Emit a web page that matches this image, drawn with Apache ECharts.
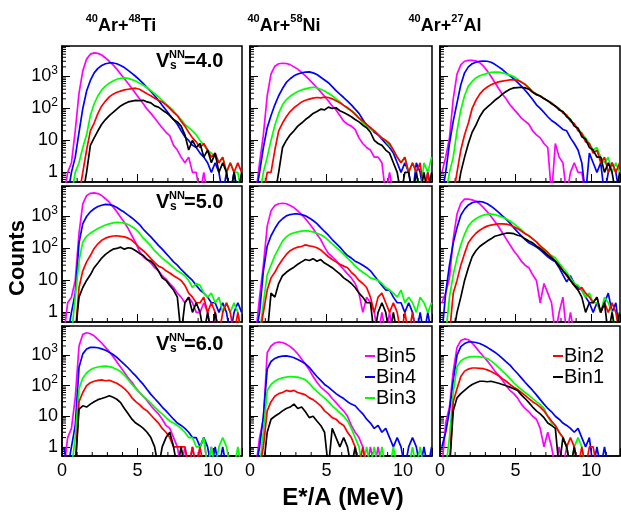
<!DOCTYPE html>
<html><head><meta charset="utf-8">
<script src="https://cdn.jsdelivr.net/npm/echarts@6/dist/echarts.min.js"></script>
<style>html,body{margin:0;padding:0;background:#fff}#c{width:621px;height:513px}</style>
</head><body><div id="c"></div>
<script>
// ---------- data ----------
const binCenters = [0.125,0.375,0.625,0.875,1.125,1.375,1.625,1.875,2.125,2.375,2.625,2.875,3.125,3.375,3.625,3.875,4.125,4.375,4.625,4.875,5.125,5.375,5.625,5.875,6.125,6.375,6.625,6.875,7.125,7.375,7.625,7.875,8.125,8.375,8.625,8.875,9.125,9.375,9.625,9.875,10.125,10.375,10.625,10.875,11.125,11.375,11.625,11.875];
const binNames = ['Bin5','Bin4','Bin3','Bin2','Bin1'];
const binColors = ['#ff00ff','#0000ff','#00ff00','#ff0000','#000000'];
const vsValues = ['4.0','5.0','6.0'];
const xTickLabels = [0,5,10];
const xMinorTicks = [1,2,3,4,6,7,8,9,11];
const yMinorTicks = [0.6,0.7,0.8,0.9,2,3,4,5,6,7,8,9,20,30,40,50,60,70,80,90,200,300,400,500,600,700,800,900,2000,3000,4000,5000,6000,7000,8000];

// 40Ar+48Ti, Vs=4.0
const tiV4Bin5 = [0,1,2,20,300,1500,3500,5000,5500,5300,4700,3800,3000,2300,1700,1200,850,600,420,290,200,140,95,70,50,35,25,18,14,7,5,3,2,3,1,1,0,1,0,0,0,0,0,0,0,0,0,0];
const tiV4Bin4 = [0,0,1,3,18,100,350,750,1300,1800,2200,2500,2650,2650,2500,2200,1900,1550,1250,1000,780,600,450,340,250,180,125,90,62,45,32,20,13,10,7,6,4,3,2,1,2,1,0,1,0,1,0,0];
const tiV4Bin3 = [0,0,0,1,2,6,15,60,140,250,380,500,620,720,820,880,900,880,800,720,620,530,450,360,290,230,180,140,110,85,60,45,32,25,20,15,10,7,5,4,3,2,3,1,2,1,1,0];
const tiV4Bin2 = [0,0,0,0,0,1,5,20,35,70,120,170,230,280,320,350,380,400,420,430,400,340,290,250,210,180,160,130,100,75,60,40,28,18,12,9,6,8,5,3,4,2,3,1,2,1,2,1];
const tiV4Bin1 = [0,0,0,0,0,0,1,7,12,20,32,45,60,75,95,120,140,160,170,180,175,180,160,150,120,110,90,75,60,45,38,28,15,5,10,6,8,3,5,2,4,1,2,1,0,1,0,1];
// 40Ar+58Ni, Vs=4.0
const niV4Bin5 = [0,0,2,15,250,1200,2100,2500,2600,2550,2350,2000,1700,1350,1050,800,600,450,330,240,170,120,90,60,40,32,28,22,12,8,6,5,3,3,2,0,1,0,0,0,0,0,0,0,0,0,0,0];
const niV4Bin4 = [0,0,1,6,25,60,130,250,420,650,850,1050,1200,1300,1380,1400,1300,1150,950,780,640,480,360,280,220,170,130,95,70,45,30,25,18,15,11,8,6,4,2,1,2,1,0,2,1,0,1,0];
const niV4Bin3 = [0,0,0,1,3,10,30,70,130,190,240,290,340,380,410,440,460,440,400,350,300,250,200,160,125,100,85,70,50,35,28,22,20,16,12,10,7,5,3,2,3,1,2,1,0,2,1,3];
const niV4Bin2 = [0,0,0,0,1,1,5,20,35,55,80,105,130,160,180,195,210,220,215,225,220,200,175,150,125,105,85,65,50,40,32,25,20,15,12,10,8,5,3,2,3,1,2,1,2,0,1,0];
const niV4Bin1 = [0,0,0,0,0,0,0,1,6,10,15,20,28,35,45,55,70,80,95,90,110,100,105,85,75,65,55,45,38,30,25,18,10,8,7,5,4,2,1,0,1,1,0,1,0,1,0,1];
// 40Ar+27Al, Vs=4.0
const alV4Bin5 = [1,3,12,200,1200,2300,3000,3200,3200,3100,2700,2100,1500,1000,650,420,280,200,130,95,70,50,40,32,20,15,12,8,6,0,8,3,2,0,1,2,1,1,0,0,0,0,0,0,0,0,0,0];
const alV4Bin4 = [0,1,8,40,150,550,1300,2000,2500,2800,3000,3050,3000,2800,2400,2000,1650,1300,1050,850,650,500,370,270,190,130,100,75,55,42,35,28,22,20,12,8,5,2,0,4,2,1,2,0,1,2,1,0];
const alV4Bin3 = [0,0,1,3,20,90,250,500,700,900,1050,1150,1250,1350,1380,1380,1300,1200,1100,1000,820,650,580,450,340,290,245,205,175,145,120,95,78,60,44,32,24,16,12,8,5,6,3,2,3,1,2,1];
const alV4Bin2 = [0,0,0,0,1,5,15,35,100,180,280,380,470,550,620,680,720,750,780,790,760,680,560,440,330,280,240,210,170,150,115,100,72,62,40,34,20,17,9,8,4,5,2,3,1,2,1,2];
const alV4Bin1 = [0,0,0,0,0,1,3,8,18,30,55,85,110,140,180,220,280,340,400,440,450,460,440,400,320,270,245,200,175,140,120,90,80,55,45,28,24,13,11,6,5,3,3,1,2,1,0,1];
// Vs=5.0
const tiV5Bin5 = [0,2,3,10,300,2500,4500,5300,5500,5200,4500,3600,2800,2000,1400,950,650,420,250,150,80,55,45,35,25,20,14,11,8,6,4,3,2,3,2,1,1,2,1,0,1,0,0,0,0,0,0,0];
const tiV5Bin4 = [0,0,1,4,150,600,1000,1400,1750,2050,2250,2400,2350,2200,1900,1600,1350,1100,900,720,560,400,300,230,170,125,95,70,52,38,30,22,17,13,10,7,5,4,3,2,2,1,2,1,0,1,2,1];
const tiV5Bin3 = [0,0,0,3,40,160,240,300,360,420,480,540,590,630,660,650,620,560,480,400,300,210,160,120,85,65,50,40,32,25,20,17,14,10,6,8,7,4,3,4,2,3,1,2,1,2,1,0];
const tiV5Bin2 = [0,0,0,0,6,20,38,60,100,140,180,210,230,245,250,240,230,210,180,140,105,85,65,48,36,28,25,20,17,14,12,10,7,4,3,2,2,3,1,2,1,0,1,2,1,0,1,0];
const tiV5Bin1 = [0,0,0,0,3,6,10,15,25,35,50,65,80,95,100,110,95,105,100,85,70,60,45,40,30,20,12,10,7,5,3,0,2,3,1,2,1,0,1,0,1,0,0,0,0,0,0,0];
const niV5Bin5 = [0,0,3,30,500,1500,2200,2500,2600,2500,2200,1900,1500,1150,850,600,420,280,190,110,70,55,42,30,22,16,12,8,4,1,3,2,1,0,1,0,1,0,0,0,0,0,0,0,0,0,0,0];
const niV5Bin4 = [0,0,1,20,120,250,420,650,850,1050,1150,1200,1200,1150,1050,900,750,600,450,340,260,190,145,110,80,60,50,40,35,30,25,20,14,10,7,5,5,3,2,2,1,2,1,0,1,0,1,0];
const niV5Bin3 = [0,0,0,2,15,30,60,100,170,230,280,310,330,350,360,350,330,300,270,230,180,140,110,85,65,50,38,28,22,18,15,12,11,10,8,6,5,4,3,5,2,3,2,1,3,2,1,2];
const niV5Bin2 = [0,0,0,1,5,12,18,30,45,65,85,100,110,115,130,120,115,105,90,70,55,45,38,32,28,25,18,14,10,8,6,3,1,3,4,2,1,2,1,0,1,0,1,0,0,0,0,0];
const niV5Bin1 = [0,0,0,0,0,4,3,8,14,18,22,26,32,38,45,42,48,40,45,35,30,25,20,16,12,10,8,6,4,3,2,2,0,1,2,1,0,1,0,0,0,0,0,0,0,0,0,0];
const alV5Bin5 = [2,4,12,200,1200,2600,3500,3500,3300,3000,2500,1900,1400,1000,700,480,310,200,130,85,60,40,30,25,15,10,2,8,4,2,0,1,3,0,1,0,0,0,0,0,0,0,0,0,0,0,0,0];
const alV5Bin4 = [0,4,30,150,450,1100,1700,2300,2700,2900,2950,2800,2500,2100,1700,1350,1050,820,620,450,330,250,190,150,130,110,90,70,55,45,38,25,15,9,14,8,6,5,3,2,1,2,1,2,4,1,2,0];
const alV5Bin3 = [0,0,3,15,50,130,280,500,700,850,1000,1100,1180,1200,1150,1050,950,850,720,600,480,380,300,250,200,160,120,95,75,60,50,35,25,18,12,8,7,5,3,4,2,2,1,3,2,1,0,1];
const alV5Bin2 = [0,0,0,4,10,30,70,150,220,300,370,440,500,540,570,590,590,580,540,480,420,350,290,250,200,160,120,95,75,55,40,30,20,14,10,7,5,6,4,3,2,3,1,2,1,2,1,0];
const alV5Bin1 = [0,0,0,0,1,3,10,25,55,85,115,140,170,200,240,260,280,300,300,290,260,240,200,170,150,120,100,80,62,50,40,28,20,15,10,7,5,3,1,2,2,3,1,2,0,1,0,1];
// Vs=6.0
const tiV6Bin5 = [0,2,4,40,2000,4800,5400,5000,4300,3300,2500,1800,1300,900,600,400,270,180,130,85,60,45,32,22,16,12,8,5,4,2,1,0,1,0,1,0,1,2,0,1,0,0,0,0,0,0,0,0];
const tiV6Bin4 = [1,0,1,5,400,1100,1600,1800,1800,1750,1600,1450,1250,1050,850,650,500,380,280,210,150,110,75,52,38,28,20,15,11,8,6,5,4,3,2,2,1,2,1,0,1,0,1,0,0,0,0,0];
const tiV6Bin3 = [0,0,0,2,80,180,260,330,380,410,430,440,420,390,340,290,220,160,110,80,60,45,35,27,20,15,12,9,7,6,5,4,3,2,2,1,1,2,0,1,0,1,2,1,0,0,1,0];
const tiV6Bin2 = [0,0,0,0,30,60,100,125,140,150,155,145,150,135,120,100,80,60,40,30,24,18,15,11,8,6,4,3,2,1,1,1,1,0,1,0,1,0,0,0,0,0,0,0,0,0,0,0];
const tiV6Bin1 = [0,0,0,0,17,22,20,25,30,35,38,42,47,42,36,28,18,12,8,6,5,4,3,2,1,0,1,2,3,1,0,1,0,0,0,0,0,0,0,0,0,0,0,0,0,0,0,0];
const niV6Bin5 = [0,0,2,8,1200,2000,2500,2700,2600,2300,1900,1500,1100,750,500,330,200,130,90,70,55,38,28,20,15,10,5,3,2,1,0,1,0,1,0,0,0,0,0,0,0,0,0,0,0,0,0,0];
const niV6Bin4 = [0,0,1,10,350,620,780,880,930,950,900,820,720,620,520,400,280,200,150,110,90,70,55,45,38,30,25,22,16,12,8,6,4,5,3,4,2,1,2,1,0,1,2,1,0,1,0,1];
const niV6Bin3 = [0,0,0,3,70,110,140,165,180,190,200,195,190,175,155,120,85,65,50,40,30,22,17,13,10,7,4,2,1,0,1,0,1,0,1,0,0,1,0,0,0,0,1,0,1,0,0,0];
const niV6Bin2 = [0,0,0,1,15,30,45,55,60,70,65,70,60,55,50,40,35,28,22,15,12,9,8,6,5,3,2,1,0,1,0,0,0,0,0,0,0,0,0,0,0,0,0,0,0,0,0,0];
const niV6Bin1 = [0,0,0,0,3,8,10,12,15,18,20,25,18,20,14,9,10,7,5,3,0,4,2,1,2,1,0,1,0,0,0,0,0,0,0,0,0,0,0,0,0,0,0,0,0,0,0,0];
const alV6Bin5 = [0,6,20,300,1800,3000,3400,3200,2500,1800,1250,900,650,450,300,220,150,100,70,55,40,25,18,14,10,8,4,1,3,1,0,1,0,1,0,0,0,0,0,0,0,0,0,0,0,0,0,0];
const alV6Bin4 = [1,3,15,150,1000,1900,2400,2700,2700,2600,2400,2100,1800,1500,1250,1000,780,600,470,340,250,180,130,95,70,50,35,25,18,14,10,8,6,5,4,3,4,2,1,2,0,1,0,1,0,0,0,0];
const alV6Bin3 = [0,0,2,60,420,650,780,860,900,900,880,840,780,650,520,400,300,230,170,125,95,75,60,48,38,30,24,18,10,6,5,3,2,1,0,1,2,1,0,0,0,0,0,0,0,0,0,0];
const alV6Bin2 = [0,0,0,30,80,200,300,350,380,380,370,360,330,290,250,210,170,140,110,90,75,60,48,38,30,25,20,15,10,7,5,3,2,1,2,1,0,1,0,1,1,0,0,0,0,0,0,0];
const alV6Bin1 = [0,0,0,15,40,55,70,90,110,125,140,140,135,140,130,120,110,100,90,80,70,50,38,28,20,15,12,9,6,5,4,0,2,1,0,1,0,0,0,0,0,0,0,0,0,0,0,0];

const panels = [
  [[tiV4Bin5,tiV4Bin4,tiV4Bin3,tiV4Bin2,tiV4Bin1],[niV4Bin5,niV4Bin4,niV4Bin3,niV4Bin2,niV4Bin1],[alV4Bin5,alV4Bin4,alV4Bin3,alV4Bin2,alV4Bin1]],
  [[tiV5Bin5,tiV5Bin4,tiV5Bin3,tiV5Bin2,tiV5Bin1],[niV5Bin5,niV5Bin4,niV5Bin3,niV5Bin2,niV5Bin1],[alV5Bin5,alV5Bin4,alV5Bin3,alV5Bin2,alV5Bin1]],
  [[tiV6Bin5,tiV6Bin4,tiV6Bin3,tiV6Bin2,tiV6Bin1],[niV6Bin5,niV6Bin4,niV6Bin3,niV6Bin2,niV6Bin1],[alV6Bin5,alV6Bin4,alV6Bin3,alV6Bin2,alV6Bin1]]
];

// ---------- layout / style ----------
const F = '"Liberation Sans", Arial, Helvetica, sans-serif';
const colLeft = [62, 250, 440], colW = [180, 182, 180];
const rowTop = [46, 186, 326], rowH = [136, 136, 130];
const X_MAX = 11.9, Y_MIN = 0.5, Y_MAX = 9000, EMPTY = 0.2;

const grids = [], xAxes = [], yAxes = [], series = [];
for (let r = 0; r < 3; r++) {
  for (let c = 0; c < 3; c++) {
    const k = r * 3 + c;
    grids.push({left: colLeft[c], top: rowTop[r], width: colW[c], height: rowH[r],
      show: true, borderColor: '#000', borderWidth: 1.5, backgroundColor: 'transparent',
      containLabel: false, outerBoundsMode: 'none'});
    xAxes.push({gridIndex: k, type: 'value', min: 0, max: X_MAX, interval: 5,
      axisLine: {show: true, onZero: false, lineStyle: {color: '#000', width: 1.5}},
      axisTick: {show: true, inside: true, length: 8, lineStyle: {color: '#000', width: 1}},
      splitLine: {show: false},
      axisLabel: {show: r === 2, fontSize: 18, color: '#000', fontFamily: F, margin: 6,
        formatter: v => xTickLabels.indexOf(v) >= 0 ? String(v) : ''}});
    yAxes.push({gridIndex: k, type: 'log', logBase: 10, min: Y_MIN, max: Y_MAX,
      axisLine: {show: true, onZero: false, lineStyle: {color: '#000', width: 1.5}},
      axisTick: {show: true, inside: true, length: 8, lineStyle: {color: '#000', width: 1}},
      splitLine: {show: false},
      axisLabel: {show: c === 0, fontSize: 18, lineHeight: 24, color: '#000', fontFamily: F, margin: 4,
        formatter: v => {
          const e = Math.log10(v), n = Math.round(e);
          if (Math.abs(e - n) > 1e-6 || n < 0) return '';
          if (n === 0) return '1';
          if (n === 1) return '10';
          return '10{s|' + n + '}';
        },
        rich: {s: {fontSize: 12, lineHeight: 12, verticalAlign: 'top', color: '#000', fontFamily: F}}}});
    const sets = panels[r][c];
    for (let b = 0; b < 5; b++) {
      series.push({type: 'line', name: binNames[b], xAxisIndex: k, yAxisIndex: k,
        data: binCenters.map((x, i) => [x, sets[b][i] > 0 ? sets[b][i] : EMPTY]),
        showSymbol: false, symbol: 'none', clip: true, color: binColors[b],
        lineStyle: {color: binColors[b], width: 1.7}, emphasis: {disabled: true}, silent: true});
    }
    series.push({type: 'custom', xAxisIndex: k, yAxisIndex: k, silent: true,
      data: yMinorTicks.map(v => [0, v]),
      renderItem: (p, api) => { const q = api.coord([api.value(0), api.value(1)]);
        return {type: 'line', shape: {x1: q[0], y1: q[1], x2: q[0] + 4, y2: q[1]}, style: {stroke: '#000', lineWidth: 1}}; }});
    series.push({type: 'custom', xAxisIndex: k, yAxisIndex: k, silent: true,
      data: xMinorTicks.map(v => [v, Y_MIN]),
      renderItem: (p, api) => { const q = api.coord([api.value(0), api.value(1)]);
        return {type: 'line', shape: {x1: q[0], y1: q[1], x2: q[0], y2: q[1] - 4}, style: {stroke: '#000', lineWidth: 1}}; }});
  }
}

const graphic = [];
const titleX = [121, 284, 445];
const titleParts = [['40','Ar+','48','Ti'],['40','Ar+','58','Ni'],['40','Ar+','27','Al']];
titleParts.forEach((t, i) => graphic.push({type: 'text', x: titleX[i], y: 26, style: {
  text: '{s|' + t[0] + '}{m|' + t[1] + '}{s|' + t[2] + '}{m|' + t[3] + '}', align: 'center', verticalAlign: 'middle',
  rich: {m: {fontSize: 18, lineHeight: 26, fontWeight: 'bold', fontFamily: F, fill: '#000'},
         s: {fontSize: 11, lineHeight: 12, fontWeight: 'bold', fontFamily: F, fill: '#000', verticalAlign: 'top'}}}}));
const vsY = [61, 202, 344];
vsValues.forEach((v, r) => {
  const y = vsY[r];
  graphic.push({type: 'text', x: 156, y: y, style: {text: 'V', font: 'bold 20px ' + F, fill: '#000', verticalAlign: 'middle'}});
  graphic.push({type: 'text', x: 169, y: y - 6, style: {text: 'NN', font: 'bold 11px ' + F, fill: '#000', verticalAlign: 'middle'}});
  graphic.push({type: 'text', x: 170, y: y + 5, style: {text: 's', font: 'bold 12px ' + F, fill: '#000', verticalAlign: 'middle'}});
  graphic.push({type: 'text', x: 184, y: y, style: {text: '=' + v, font: 'bold 20px ' + F, fill: '#000', verticalAlign: 'middle'}});
});
graphic.push({type: 'text', x: 18, y: 258, rotation: Math.PI / 2, style: {text: 'Counts', font: 'bold 22px ' + F, fill: '#000', align: 'center', verticalAlign: 'middle'}});
graphic.push({type: 'text', x: 343, y: 498, style: {text: 'E*/A (MeV)', font: 'bold 24px ' + F, fill: '#000', align: 'center', verticalAlign: 'middle'}});

const legendCommon = {orient: 'vertical', itemWidth: 10, itemHeight: 2, itemGap: 1, icon: 'rect', selectedMode: false,
  textStyle: {fontSize: 20, lineHeight: 20, color: '#000', fontFamily: F, padding: [0, 0, 0, -4]}};

const chart = echarts.init(document.getElementById('c'), null, {renderer: 'canvas'});
chart.setOption({
  animation: false,
  backgroundColor: '#fff',
  grid: grids, xAxis: xAxes, yAxis: yAxes, series: series, graphic: graphic,
  legend: [
    Object.assign({data: ['Bin5','Bin4','Bin3'], left: 360, top: 341}, legendCommon),
    Object.assign({data: ['Bin2','Bin1'], left: 548, top: 341}, legendCommon)
  ]
});
</script>
</body></html>
